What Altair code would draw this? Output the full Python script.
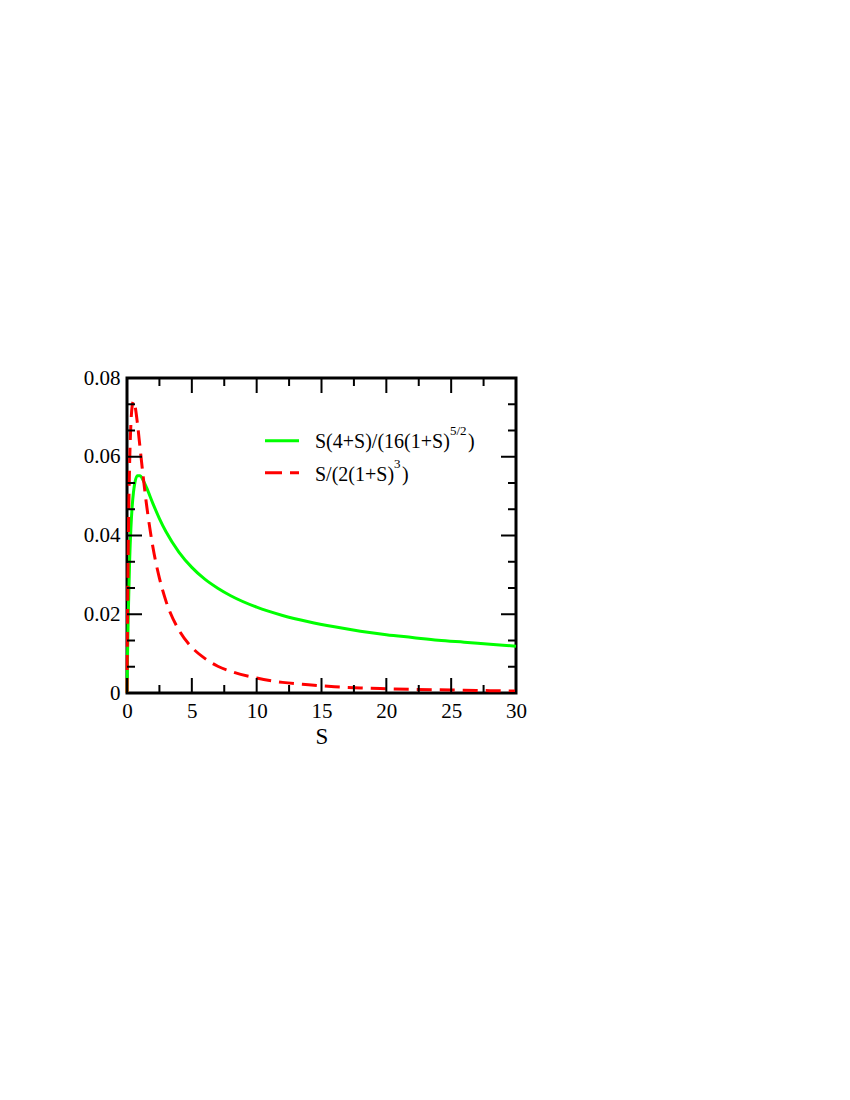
import altair as alt
import pandas as pd

# ---- data ----
s_values = [0, 0.02, 0.05, 0.1, 0.2, 0.3, 0.4, 0.5, 0.6, 0.8, 1, 1.25, 1.5, 2, 2.5, 3, 4, 5, 6, 7, 8,
            10, 12, 14, 16, 18, 20, 22, 24, 26, 28, 30]
green_values = [0, 0.0048, 0.0112, 0.0202, 0.0333, 0.0418, 0.0474, 0.0510, 0.0533, 0.0552, 0.0552,
                0.0540, 0.0522, 0.0481, 0.0443, 0.0410, 0.0358, 0.0319, 0.0289, 0.0266, 0.0247,
                0.0218, 0.0197, 0.0181, 0.0168, 0.0157, 0.0148, 0.0141, 0.0134, 0.0129, 0.0124, 0.0119]
red_values = [0, 0.0094, 0.0216, 0.0376, 0.0579, 0.0683, 0.0729, 0.0741, 0.0732, 0.0686, 0.0625,
              0.0549, 0.0480, 0.0370, 0.0292, 0.0234, 0.0160, 0.0116, 0.0088, 0.0068, 0.0055,
              0.0038, 0.0027, 0.0021, 0.0016, 0.0013, 0.0011, 0.0009, 0.0008, 0.0007, 0.0006, 0.0005]

series_names = ["S(4+S)/(16(1+S)", "S/(2(1+S)"]
series_sup = ["5/2", "3"]
series_colors = ["#00ff00", "#ff0000"]

x_major = [0, 5, 10, 15, 20, 25, 30]
x_minor = [2.5, 7.5, 12.5, 17.5, 22.5, 27.5]
y_major = [0, 0.02, 0.04, 0.06, 0.08]
y_minor = [0.00667, 0.01333, 0.02667, 0.03333, 0.04667, 0.05333, 0.06667, 0.07333]

W, H = 389, 315
FONT = "Liberation Serif"

df = pd.DataFrame({"S": s_values, "green": green_values, "red": red_values})

xs = alt.Scale(domain=[0, 30], nice=False, zero=False)
ys = alt.Scale(domain=[0, 0.08], nice=False)

x_axis = alt.Axis(values=x_major, format="d", ticks=False, tickSize=0, domain=False, grid=False,
                  labelFont=FONT, labelFontSize=21, labelColor="black", labelPadding=7,
                  labelFlush=False, labelOverlap=False,
                  title="S", titleFont=FONT, titleFontSize=23, titleFontWeight="normal",
                  titleColor="black", titlePadding=4)
y_axis = alt.Axis(values=y_major, format=".2~f", ticks=False, tickSize=0, domain=False, grid=False,
                  labelFont=FONT, labelFontSize=21, labelColor="black", labelPadding=7,
                  labelFlush=False, labelOverlap=False, title=None)

green = alt.Chart(df).mark_line(color=series_colors[0], strokeWidth=3, interpolate="monotone").encode(
    x=alt.X("S:Q", scale=xs, axis=x_axis),
    y=alt.Y("green:Q", scale=ys, axis=y_axis),
)
red = alt.Chart(df).mark_line(color=series_colors[1], strokeWidth=3, strokeDash=[15, 8],
                              interpolate="monotone").encode(
    x=alt.X("S:Q", scale=xs),
    y=alt.Y("red:Q", scale=ys),
)

def xticks(vals, length):
    d = pd.DataFrame({"v": vals})
    b = alt.Chart(d).mark_rule(color="black", strokeWidth=2).encode(
        x=alt.X("v:Q", scale=xs), y=alt.value(H), y2=alt.value(H - length))
    t = alt.Chart(d).mark_rule(color="black", strokeWidth=2).encode(
        x=alt.X("v:Q", scale=xs), y=alt.value(0), y2=alt.value(length))
    return [b, t]

def yticks(vals, length):
    d = pd.DataFrame({"v": vals})
    l = alt.Chart(d).mark_rule(color="black", strokeWidth=2).encode(
        y=alt.Y("v:Q", scale=ys), x=alt.value(0), x2=alt.value(length))
    r = alt.Chart(d).mark_rule(color="black", strokeWidth=2).encode(
        y=alt.Y("v:Q", scale=ys), x=alt.value(W), x2=alt.value(W - length))
    return [l, r]

ticks = xticks(x_major, 15) + xticks(x_minor, 8) + yticks(y_major, 15) + yticks(y_minor, 8)

one = alt.Data(values=[{"k": 1}])

def legend_entry(i, y_line, y_base, x_sup, x_close, dash):
    line_kw = dict(color=series_colors[i], strokeWidth=3)
    if dash:
        line_kw["strokeDash"] = [17, 8]
    ln = alt.Chart(one).mark_rule(**line_kw).encode(
        x=alt.value(138), x2=alt.value(172), y=alt.value(y_line))
    txt = alt.Chart(one).mark_text(align="left", baseline="alphabetic", font=FONT, fontSize=20,
                                   color="black").encode(
        x=alt.value(188), y=alt.value(y_base), text=alt.value(series_names[i]))
    sup = alt.Chart(one).mark_text(align="left", baseline="alphabetic", font=FONT, fontSize=13,
                                   color="black").encode(
        x=alt.value(x_sup), y=alt.value(y_base - 13), text=alt.value(series_sup[i]))
    cl = alt.Chart(one).mark_text(align="left", baseline="alphabetic", font=FONT, fontSize=20,
                                  color="black").encode(
        x=alt.value(x_close), y=alt.value(y_base), text=alt.value(")"))
    return [ln, txt, sup, cl]

legend = legend_entry(0, 62.7, 70, 323, 341, False) + legend_entry(1, 94.7, 103, 267, 275, True)

chart = alt.layer(green, red, *ticks, *legend).properties(
    width=W, height=H,
    autosize=alt.AutoSizeParams(type="none"),
    padding={"left": 119, "top": 370, "right": 30, "bottom": 80},
).configure_view(stroke="black", strokeWidth=3)

chart.save("out.html", embed_options={"renderer": "svg", "actions": False})
